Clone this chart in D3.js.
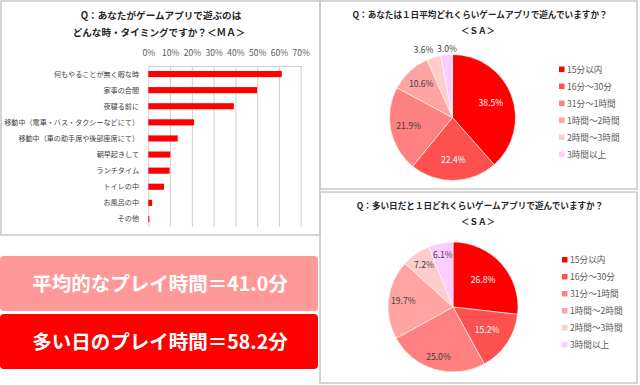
<!DOCTYPE html>
<meta charset="utf-8">
<title>ゲームアプリ 調査</title>
<script src="https://d3js.org/d3.v7.min.js"></script>
<style>
  body { margin: 0; background: #fff; }
  svg { font-family: "Noto Sans CJK JP", sans-serif; }
</style>
<body>
<div id="chart"></div>
<script>

// ---- data ----
var timingLabels = [
  "何もやることが無く暇な時",
  "家事の合間",
  "夜寝る前に",
  "移動中（電車・バス・タクシーなどにて）",
  "移動中（車の助手席や後部座席にて）",
  "朝早起きして",
  "ランチタイム",
  "トイレの中",
  "お風呂の中",
  "その他"
];
var timingValues = [0.613, 0.500, 0.393, 0.210, 0.135, 0.101, 0.098, 0.072, 0.018, 0.005];
var timingTicks = [0, 0.1, 0.2, 0.3, 0.4, 0.5, 0.6, 0.7];

var durationLabels = ["15分以内", "16分～30分", "31分～1時間", "1時間～2時間", "2時間～3時間", "3時間以上"];
var averageDayValues = [38.5, 22.4, 21.9, 10.6, 3.6, 3.0];
var busyDayValues = [26.8, 15.2, 25.0, 19.7, 7.2, 6.1];

var averageMinutes = "41.0";
var busyMinutes = "58.2";

// ---- style ----
var sliceColors = ["#ff0000", "#ff5050", "#ff8080", "#ffa3a3", "#ffcccc", "#ffccff"];
var sliceTextColors = ["#fff", "#fff", "#404040", "#404040", "#404040", "#404040"];
var borderColor = "#c8c8c8";

var width = 640, height = 385;

var svg = d3.select("#chart")
  .append("svg")
    .attr("width", width)
    .attr("height", height);

svg.append("rect").attr("width", width).attr("height", height).attr("fill", "#fff");

// panel frames
var panels = [
  {x: 1, y: 1, w: 319, h: 234},
  {x: 320, y: 1, w: 317, h: 188},
  {x: 320, y: 192, w: 317, h: 191}
];
svg.selectAll(".panel")
  .data(panels)
  .enter()
  .append("rect")
    .attr("class", "panel")
    .attr("x", d => d.x)
    .attr("y", d => d.y)
    .attr("width", d => d.w)
    .attr("height", d => d.h)
    .attr("fill", "none")
    .attr("stroke", borderColor)
    .attr("stroke-width", 1.5);

////////////////// bar chart (top left)

svg.append("text")
  .attr("x", 161).attr("y", 19)
  .attr("text-anchor", "middle")
  .attr("font-size", 9.6).attr("font-weight", "bold").attr("fill", "#262626")
  .text("Q：あなたがゲームアプリで遊ぶのは");
svg.append("text")
  .attr("x", 159).attr("y", 36)
  .attr("text-anchor", "middle")
  .attr("font-size", 9.6).attr("font-weight", "bold").attr("fill", "#262626")
  .text("どんな時・タイミングですか？＜ＭＡ＞");

var plotTop = 66, plotBottom = 227;

var x = d3.scaleLinear()
  .domain([0, 0.7])
  .range([148.3, 300.7]);

var y = d3.scaleBand()
  .domain(timingLabels)
  .range([plotTop, plotBottom])
  .paddingInner(0.62)
  .paddingOuter(0.31);

var xAxis = svg.append("g")
  .attr("transform", "translate(0," + plotTop + ")")
  .call(d3.axisTop(x)
    .tickValues(timingTicks)
    .tickFormat(d3.format(".0%"))
    .tickSizeInner(-(plotBottom - plotTop))
    .tickSizeOuter(0)
    .tickPadding(10));
xAxis.attr("font-family", null);
xAxis.select(".domain").attr("stroke", "#d0d0d0");
xAxis.selectAll(".tick line").attr("stroke", "#d0d0d0");
xAxis.selectAll(".tick text")
  .attr("font-size", 8.5)
  .attr("fill", "#595959");

svg.selectAll(".bar")
  .data(timingValues)
  .enter()
  .append("rect")
    .attr("class", "bar")
    .attr("x", x(0))
    .attr("y", (d, i) => y(timingLabels[i]))
    .attr("width", d => x(d) - x(0))
    .attr("height", y.bandwidth())
    .attr("fill", "#ff0000");

svg.selectAll(".barLabel")
  .data(timingLabels)
  .enter()
  .append("text")
    .attr("class", "barLabel")
    .attr("x", 139)
    .attr("y", d => y(d) + y.bandwidth() / 2)
    .attr("dy", "0.35em")
    .attr("text-anchor", "end")
    .attr("font-size", 7.1)
    .attr("fill", "#404040")
    .text(d => d);

////////////////// banners (bottom left)

var banners = [
  {text: "平均的なプレイ時間＝" + averageMinutes + "分", color: "#ff9999", y: 256},
  {text: "多い日のプレイ時間＝" + busyMinutes + "分", color: "#ff0000", y: 314}
];
var bannerG = svg.selectAll(".banner")
  .data(banners)
  .enter()
  .append("g")
    .attr("class", "banner");
bannerG.append("rect")
  .attr("x", 0).attr("y", d => d.y)
  .attr("width", 318).attr("height", 55)
  .attr("rx", 4)
  .attr("fill", d => d.color);
bannerG.append("text")
  .attr("x", 160).attr("y", d => d.y + 27.5)
  .attr("dy", "0.36em")
  .attr("text-anchor", "middle")
  .attr("font-size", 19.5).attr("font-weight", "bold")
  .attr("fill", "#fff")
  .text(d => d.text);

////////////////// pies (right)

function drawPie(values, opts) {
  var g = svg.append("g");

  g.append("text")
    .attr("x", opts.titleX).attr("y", opts.titleY)
    .attr("text-anchor", "middle")
    .attr("font-size", 8.6).attr("font-weight", "bold").attr("fill", "#262626")
    .text(opts.title);
  g.append("text")
    .attr("x", opts.titleX - 2).attr("y", opts.titleY + 15.5)
    .attr("text-anchor", "middle")
    .attr("font-size", 8.6).attr("font-weight", "bold").attr("fill", "#262626")
    .text("＜ＳＡ＞");

  var pie = d3.pie().sort(null).value(d => d);
  var arcs = pie(values);
  var arc = d3.arc().innerRadius(0).outerRadius(opts.r);

  var pg = g.append("g")
    .attr("transform", "translate(" + opts.cx + "," + opts.cy + ")");

  pg.selectAll("path")
    .data(arcs)
    .enter()
    .append("path")
      .attr("d", arc)
      .attr("fill", (d, i) => sliceColors[i])
      .attr("stroke", "#fff")
      .attr("stroke-width", 0.6);

  pg.selectAll("text")
    .data(arcs)
    .enter()
    .append("text")
      .attr("transform", function(d, i) {
        var lr = opts.r * opts.labelR[i];
        var c = d3.arc().innerRadius(lr).outerRadius(lr).centroid(d);
        return "translate(" + (c[0] + opts.labelDx[i]) + "," + c[1] + ")";
      })
      .attr("dy", "0.35em")
      .attr("text-anchor", "middle")
      .attr("font-size", 8.6)
      .attr("fill", (d, i) => sliceTextColors[i])
      .text(d => d.data.toFixed(1) + "%");

  var lg = g.selectAll(".legend")
    .data(durationLabels)
    .enter()
    .append("g")
      .attr("transform", (d, i) => "translate(" + opts.legendX + "," + (opts.legendY + i * 17) + ")");
  lg.append("rect")
    .attr("x", 0).attr("y", -3)
    .attr("width", 5.5).attr("height", 5.5)
    .attr("fill", (d, i) => sliceColors[i]);
  lg.append("text")
    .attr("x", 8).attr("y", 0)
    .attr("dy", "0.35em")
    .attr("font-size", 8.6)
    .attr("fill", "#595959")
    .text(d => d);
}

drawPie(averageDayValues, {
  title: "Q：あなたは１日平均どれくらいゲームアプリで遊んでいますか？",
  titleX: 480, titleY: 18,
  cx: 452.5, cy: 117.5, r: 63,
  labelR: [0.65, 0.68, 0.71, 0.73, 1.12, 1.1],
  labelDx: [0, 0, 0, 0, -8, 1],
  legendX: 559, legendY: 69.5
});

drawPie(busyDayValues, {
  title: "Q：多い日だと１日どれくらいゲームアプリで遊んでいますか？",
  titleX: 480, titleY: 209,
  cx: 453, cy: 307, r: 65,
  labelR: [0.62, 0.63, 0.8, 0.77, 0.78, 0.82],
  labelDx: [0, 0, 0, 0, 0, 0],
  legendX: 562, legendY: 260
});

</script>
</body>
